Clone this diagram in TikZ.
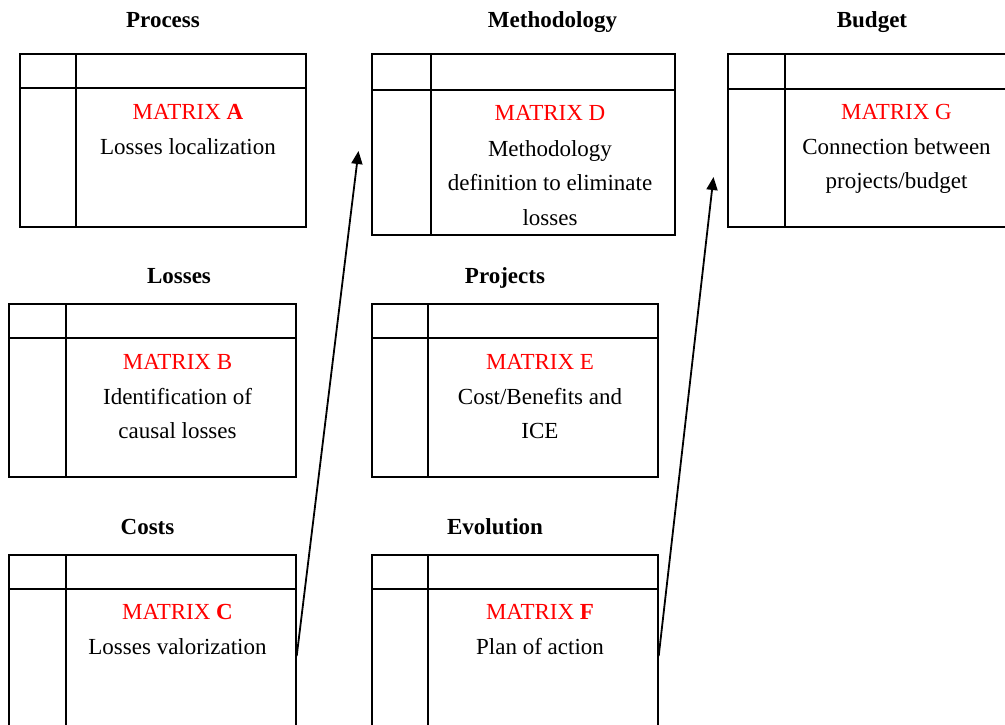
\documentclass[tikz,border=0pt]{standalone}
\usepackage{fontspec}
\setmainfont{Liberation Serif}
\usetikzlibrary{arrows.meta,calc}
\definecolor{mred}{RGB}{255,0,0}
\tikzset{
  mbox/.style={draw, line width=1.4pt, rectangle, inner sep=0pt},
  rule/.style={line width=1.4pt},
  ttl/.style={anchor=base, font=\fontsize{23}{28}\selectfont\bfseries, inner sep=0pt},
  txt/.style={anchor=base, font=\fontsize{23}{28}\selectfont, inner sep=0pt},
  mtx/.style={txt, text=mred},
  link/.style={line width=1.8pt, -{Triangle[length=13pt,width=11pt]}}
}
\begin{document}
\begin{tikzpicture}[x=1pt,y=-1pt]
\useasboundingbox (0,0) rectangle (1005,725);
\clip (0,0) rectangle (1005,725);
% boxes
\node[mbox, minimum width=286pt, minimum height=173pt] (A) at (163,140.5) {};
\node[mbox, minimum width=303pt, minimum height=181pt] (D) at (523.5,144.5) {};
\node[mbox, minimum width=292pt, minimum height=173pt] (G) at (874,140.5) {};
\node[mbox, minimum width=287pt, minimum height=173pt] (B) at (152.5,390.5) {};
\node[mbox, minimum width=286pt, minimum height=173pt] (E) at (515,390.5) {};
\node[mbox, minimum width=287pt, minimum height=202pt] (C) at (152.5,656) {};
\node[mbox, minimum width=286pt, minimum height=202pt] (F) at (515,656) {};
% inner rules
\draw[rule] (A.west |- 0,88) -- (A.east |- 0,88);
\draw[rule] (76,0 |- A.north) -- (76,0 |- A.south);
\draw[rule] (D.west |- 0,90) -- (D.east |- 0,90);
\draw[rule] (431,0 |- D.north) -- (431,0 |- D.south);
\draw[rule] (G.west |- 0,89) -- (G.east |- 0,89);
\draw[rule] (785,0 |- G.north) -- (785,0 |- G.south);
\draw[rule] (B.west |- 0,338) -- (B.east |- 0,338);
\draw[rule] (66,0 |- B.north) -- (66,0 |- B.south);
\draw[rule] (E.west |- 0,338) -- (E.east |- 0,338);
\draw[rule] (428,0 |- E.north) -- (428,0 |- E.south);
\draw[rule] (C.west |- 0,589) -- (C.east |- 0,589);
\draw[rule] (66,0 |- C.north) -- (66,0 |- C.south);
\draw[rule] (F.west |- 0,589) -- (F.east |- 0,589);
\draw[rule] (428,0 |- F.north) -- (428,0 |- F.south);
% titles
\node[ttl] (tA) at (163,28) {Process};
\node[ttl] (tD) at (552.5,28) {Methodology};
\node[ttl] (tG) at (872,28) {Budget};
\node[ttl] (tB) at (179,283) {Losses};
\node[ttl] (tE) at (505,283) {Projects};
\node[ttl] (tC) at (147.5,534) {Costs};
\node[ttl] (tF) at (495,534) {Evolution};
% texts
\node[mtx] (mA) at (188,119) {MATRIX \textbf{A}};
\node[txt] (a1) at (188,154) {Losses localization};
\node[mtx] (mD) at (550,121) {MATRIX D};
\node[txt] (d1) at (550,156) {Methodology};
\node[txt] (d2) at (550,190.5) {definition to eliminate};
\node[txt] (d3) at (550,225) {losses};
\node[mtx] (mG) at (896.5,119) {MATRIX G};
\node[txt] (g1) at (896.5,154) {Connection between};
\node[txt] (g2) at (896.5,188) {projects/budget};
\node[mtx] (mB) at (177.5,369) {MATRIX B};
\node[txt] (b1) at (177.5,404) {Identification of};
\node[txt] (b2) at (177.5,438) {causal losses};
\node[mtx] (mE) at (540,369) {MATRIX E};
\node[txt] (e1) at (540,404) {Cost/Benefits and};
\node[txt] (e2) at (540,438) {ICE};
\node[mtx] (mC) at (177.5,619) {MATRIX \textbf{C}};
\node[txt] (c1) at (177.5,654) {Losses valorization};
\node[mtx] (mF) at (540,619) {MATRIX \textbf{F}};
\node[txt] (f1) at (540,654) {Plan of action};
% arrows
\coordinate (tipD) at (358.5,151);
\coordinate (tipG) at (713.5,177);
\draw[link] (C.east) -- (tipD);
\draw[link] (F.east) -- (tipG);
\end{tikzpicture}
\end{document}
